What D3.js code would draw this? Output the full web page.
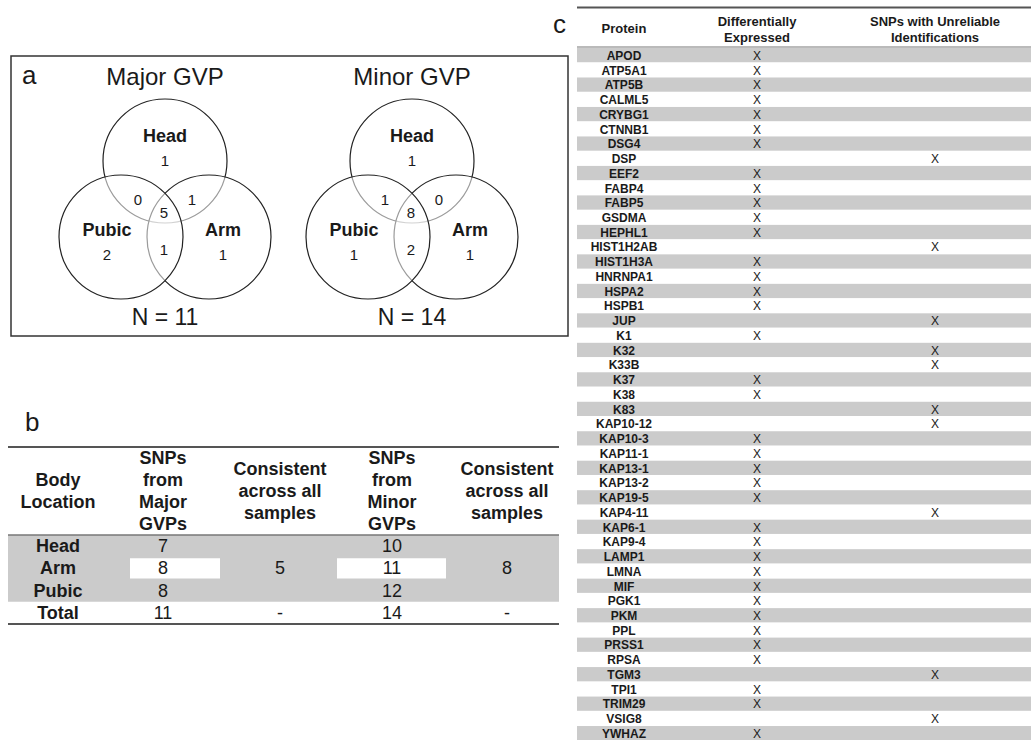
<!DOCTYPE html>
<html>
<head>
<meta charset="utf-8">
<script src="https://cdn.jsdelivr.net/npm/d3@7"></script>
<style>
  html, body { margin: 0; padding: 0; background: #fff; }
  svg { display: block; font-family: "Liberation Sans", Arial, Helvetica, sans-serif; }
</style>
</head>
<body>
<svg id="fig" width="1031" height="740"></svg>
<script>
// ---- Panel a: Venn diagrams of SNP counts per body location ----
const vennTitles = ["Major GVP", "Minor GVP"];
const vennTotals = [11, 14];
const setNames = ["Head", "Pubic", "Arm"];
// region order: Head only, Pubic only, Arm only, Head∩Pubic, Head∩Arm, Pubic∩Arm, all three
const majorRegions = [1, 2, 1, 0, 1, 1, 5];
const minorRegions = [1, 1, 1, 1, 0, 2, 8];

// ---- Panel b: SNP summary table ----
const locations = ["Head", "Arm", "Pubic", "Total"];
const majorSnps = [7, 8, 8, 11];
const minorSnps = [10, 11, 12, 14];
const consistentMajor = ["5", "-"];
const consistentMinor = ["8", "-"];
const headersB = [
  ["Body", "Location"],
  ["SNPs", "from", "Major", "GVPs"],
  ["Consistent", "across all", "samples"],
  ["SNPs", "from", "Minor", "GVPs"],
  ["Consistent", "across all", "samples"]
];

// ---- Panel c: protein table ----
const proteins = ["APOD","ATP5A1","ATP5B","CALML5","CRYBG1","CTNNB1","DSG4","DSP","EEF2","FABP4",
  "FABP5","GSDMA","HEPHL1","HIST1H2AB","HIST1H3A","HNRNPA1","HSPA2","HSPB1","JUP","K1",
  "K32","K33B","K37","K38","K83","KAP10-12","KAP10-3","KAP11-1","KAP13-1","KAP13-2",
  "KAP19-5","KAP4-11","KAP6-1","KAP9-4","LAMP1","LMNA","MIF","PGK1","PKM","PPL",
  "PRSS1","RPSA","TGM3","TPI1","TRIM29","VSIG8","YWHAZ"];
const diffExpressed = ["X","X","X","X","X","X","X","","X","X",
  "X","X","X","","X","X","X","X","","X",
  "","","X","X","","","X","X","X","X",
  "X","","X","X","X","X","X","X","X","X",
  "X","X","","X","X","","X"];
const unreliableSnps = ["","","","","","","","X","","",
  "","","","X","","","","","X","",
  "X","X","","","X","X","","","","",
  "","X","","","","","","","","",
  "","","X","","","X",""];
const headersC = [["Protein"], ["Differentially", "Expressed"], ["SNPs with Unreliable", "Identifications"]];

const svg = d3.select("#fig");
const ink = "#1a1a1a";
const shade = "#cbcbcb";

// ================= Panel a =================
svg.append("rect")
  .attr("x", 11).attr("y", 56).attr("width", 557).attr("height", 280)
  .attr("fill", "none").attr("stroke", "#333").attr("stroke-width", 1.5);
svg.append("text").attr("x", 22).attr("y", 84)
  .attr("font-size", 26).attr("fill", ink).text("a");

const vennCenters = [165, 412];
const circleR = 62;
// circle offsets from the diagram centre: Head, Pubic, Arm
const circleOffsets = { Head: [0, -51], Pubic: [-44, 25], Arm: [44, 25] };
// draw order gives the overlapping arcs their lighter look
const drawOrder = ["Head", "Arm", "Pubic"];
const regionOffsets = [[0, -46], [-58, 48], [58, 48], [-27, -7], [27, -7], [-1, 43], [-1, 6]];

[majorRegions, minorRegions].forEach((regions, i) => {
  const g = svg.append("g").attr("transform", `translate(${vennCenters[i]},212)`);
  g.append("text").attr("x", 0).attr("y", -127)
    .attr("text-anchor", "middle").attr("font-size", 24).attr("fill", ink)
    .text(vennTitles[i]);
  g.selectAll("circle").data(drawOrder).join("circle")
    .attr("cx", d => circleOffsets[d][0]).attr("cy", d => circleOffsets[d][1])
    .attr("r", circleR)
    .attr("fill", "#fff").attr("fill-opacity", 0.55)
    .attr("stroke", "#222").attr("stroke-width", 1.2);
  const labelPos = { Head: [0, -70], Pubic: [-58, 24], Arm: [58, 24] };
  g.selectAll("text.set").data(setNames).join("text").attr("class", "set")
    .attr("x", d => labelPos[d][0]).attr("y", d => labelPos[d][1])
    .attr("text-anchor", "middle").attr("font-size", 18).attr("font-weight", "bold")
    .attr("fill", ink).text(d => d);
  g.selectAll("text.num").data(regions).join("text").attr("class", "num")
    .attr("x", (d, k) => regionOffsets[k][0]).attr("y", (d, k) => regionOffsets[k][1])
    .attr("text-anchor", "middle").attr("font-size", 15).attr("fill", ink)
    .text(d => d);
  g.append("text").attr("x", 0).attr("y", 113)
    .attr("text-anchor", "middle").attr("font-size", 23).attr("fill", ink)
    .text(`N = ${vennTotals[i]}`);
});

// ================= Panel b =================
svg.append("text").attr("x", 25).attr("y", 431)
  .attr("font-size", 26).attr("fill", ink).text("b");

const bLeft = 8, bRight = 559;
const colX = [58, 163, 280, 392, 507];
const rowB = d3.scaleBand().domain(locations).range([535, 624]);

// shaded bands for the three body-location rows
svg.append("rect")
  .attr("x", bLeft).attr("y", rowB("Head"))
  .attr("width", bRight - bLeft).attr("height", rowB.bandwidth() * 3)
  .attr("fill", shade);
// unshaded cells for the Arm row value columns
[[130, 220], [337, 446]].forEach(([x0, x1]) => {
  svg.append("rect")
    .attr("x", x0).attr("y", rowB("Arm") + 1)
    .attr("width", x1 - x0).attr("height", rowB.bandwidth() - 2)
    .attr("fill", "#fff");
});

headersB.forEach((lines, c) => {
  const lh = 22;
  const mid = 491;
  const first = mid - (lines.length - 1) * lh / 2;
  svg.append("g").selectAll("text").data(lines).join("text")
    .attr("x", colX[c]).attr("y", (d, k) => first + k * lh + 6)
    .attr("text-anchor", "middle").attr("font-size", 18).attr("font-weight", "bold")
    .attr("fill", ink).text(d => d);
});

const bodyB = svg.append("g").attr("font-size", 18).attr("fill", ink).attr("text-anchor", "middle");
bodyB.selectAll("text.loc").data(locations).join("text").attr("class", "loc")
  .attr("x", colX[0]).attr("y", d => rowB(d) + rowB.bandwidth() / 2 + 6)
  .attr("font-weight", "bold").text(d => d);
bodyB.selectAll("text.maj").data(majorSnps).join("text").attr("class", "maj")
  .attr("x", colX[1]).attr("y", (d, k) => rowB(locations[k]) + rowB.bandwidth() / 2 + 6)
  .text(d => d);
bodyB.selectAll("text.min").data(minorSnps).join("text").attr("class", "min")
  .attr("x", colX[3]).attr("y", (d, k) => rowB(locations[k]) + rowB.bandwidth() / 2 + 6)
  .text(d => d);
// merged "consistent" cells span Head..Pubic, then the Total row
[[consistentMajor, colX[2]], [consistentMinor, colX[4]]].forEach(([vals, x]) => {
  bodyB.append("text").attr("x", x).attr("y", rowB("Arm") + rowB.bandwidth() / 2 + 6).text(vals[0]);
  bodyB.append("text").attr("x", x).attr("y", rowB("Total") + rowB.bandwidth() / 2 + 6).text(vals[1]);
});

svg.append("line").attr("x1", bLeft).attr("x2", bRight).attr("y1", 447).attr("y2", 447)
  .attr("stroke", "#555").attr("stroke-width", 2);
svg.append("line").attr("x1", bLeft).attr("x2", bRight).attr("y1", 535).attr("y2", 535)
  .attr("stroke", "#777").attr("stroke-width", 1.5);
svg.append("line").attr("x1", bLeft).attr("x2", bRight).attr("y1", 624).attr("y2", 624)
  .attr("stroke", "#555").attr("stroke-width", 2);

// ================= Panel c =================
svg.append("text").attr("x", 553).attr("y", 33)
  .attr("font-size", 26).attr("fill", ink).text("c");

const cLeft = 577, cRight = 1031;
const colC = [624, 757, 935];
const rowC = d3.scaleBand().domain(proteins).range([48, 48 + proteins.length * 14.74]);

svg.append("g").selectAll("rect").data(proteins.filter((d, k) => k % 2 === 0)).join("rect")
  .attr("x", cLeft).attr("y", d => rowC(d))
  .attr("width", cRight - cLeft).attr("height", rowC.bandwidth() - 0.5)
  .attr("fill", shade);

headersC.forEach((lines, c) => {
  const lh = 16;
  const first = 34 - (lines.length - 1) * lh / 2 - (lines.length > 1 ? 0 : 0);
  svg.append("g").selectAll("text").data(lines).join("text")
    .attr("x", colC[c]).attr("y", (d, k) => (lines.length > 1 ? 26 : 33) + k * lh)
    .attr("text-anchor", "middle").attr("font-size", 13).attr("font-weight", "bold")
    .attr("fill", ink).text(d => d);
});

const bodyC = svg.append("g").attr("text-anchor", "middle").attr("fill", ink).attr("font-size", 12);
bodyC.selectAll("text.p").data(proteins).join("text").attr("class", "p")
  .attr("x", colC[0]).attr("y", d => rowC(d) + rowC.bandwidth() / 2 + 4.5)
  .attr("font-weight", "bold").text(d => d);
bodyC.selectAll("text.de").data(diffExpressed).join("text").attr("class", "de")
  .attr("x", colC[1]).attr("y", (d, k) => rowC(proteins[k]) + rowC.bandwidth() / 2 + 4.5)
  .text(d => d);
bodyC.selectAll("text.un").data(unreliableSnps).join("text").attr("class", "un")
  .attr("x", colC[2]).attr("y", (d, k) => rowC(proteins[k]) + rowC.bandwidth() / 2 + 4.5)
  .text(d => d);

svg.append("line").attr("x1", cLeft).attr("x2", cRight).attr("y1", 7.5).attr("y2", 7.5)
  .attr("stroke", "#555").attr("stroke-width", 2);
svg.append("line").attr("x1", cLeft).attr("x2", cRight).attr("y1", 47).attr("y2", 47)
  .attr("stroke", "#777").attr("stroke-width", 1.2);
</script>
</body>
</html>
